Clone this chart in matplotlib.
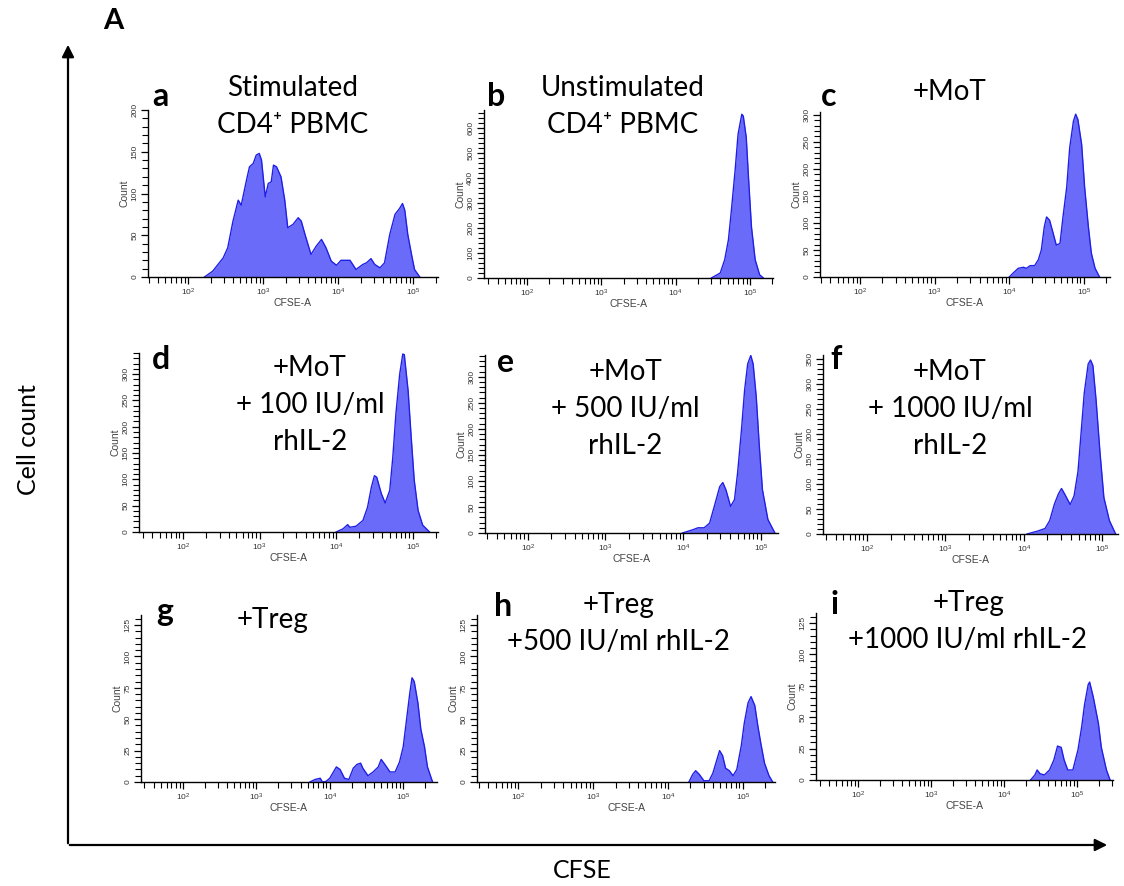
import matplotlib
matplotlib.use('Agg')
import matplotlib.pyplot as plt
from matplotlib.ticker import MultipleLocator, LogLocator, NullFormatter, FixedLocator, FixedFormatter

plt.rcParams['mathtext.fontset'] = 'custom'
plt.rcParams['mathtext.rm'] = 'Liberation Sans'
plt.rcParams['mathtext.it'] = 'Liberation Sans'

# --- data (log10 CFSE, cell count) ---
a_log = [2.22, 2.33, 2.47, 2.53, 2.60, 2.67, 2.71, 2.78, 2.82, 2.87, 2.91, 2.95, 2.98, 3.03, 3.07,
         3.11, 3.14, 3.18, 3.24, 3.29, 3.33, 3.40, 3.47, 3.51, 3.56, 3.64, 3.71, 3.78, 3.84, 3.91,
         3.98, 4.04, 4.16, 4.24, 4.33, 4.38, 4.44, 4.49, 4.56, 4.62, 4.69, 4.76, 4.82, 4.86, 4.89,
         4.93, 4.98, 5.02, 5.09]
a_count = [0, 7, 23, 35, 67, 92, 86, 116, 132, 136, 146, 148, 140, 96, 112,
           114, 134, 132, 120, 92, 59, 63, 71, 67, 51, 27, 37, 45, 35, 19,
           14, 20, 20, 9, 15, 17, 22, 15, 11, 17, 51, 75, 82, 88, 80,
           51, 27, 9, 0]

b_log = [4.48, 4.60, 4.66, 4.71, 4.75, 4.80, 4.84, 4.89, 4.91, 4.95, 4.98, 5.02, 5.07, 5.13, 5.18]
b_count = [0, 20, 73, 152, 270, 429, 574, 653, 646, 561, 402, 204, 73, 13, 0]

c_log = [4.00, 4.05, 4.12, 4.19, 4.23, 4.28, 4.34, 4.39, 4.43, 4.47, 4.50, 4.54, 4.59, 4.63,
         4.68, 4.72, 4.77, 4.81, 4.86, 4.89, 4.92, 4.97, 5.01, 5.06, 5.10, 5.15, 5.21]
c_count = [0, 7, 16, 18, 16, 21, 21, 32, 50, 93, 111, 105, 80, 59,
           62, 111, 166, 239, 288, 301, 291, 245, 166, 93, 44, 16, 0]

d_log = [4.00, 4.09, 4.15, 4.18, 4.26, 4.35, 4.41, 4.46, 4.50, 4.53, 4.59, 4.64, 4.70, 4.74,
         4.78, 4.83, 4.87, 4.89, 4.94, 4.98, 5.02, 5.07, 5.13, 5.22]
d_count = [0, 6, 14, 9, 11, 22, 47, 85, 107, 104, 73, 55, 79, 142,
           224, 300, 338, 337, 268, 180, 98, 41, 13, 0]

e_log = [3.99, 4.12, 4.19, 4.27, 4.34, 4.40, 4.47, 4.51, 4.55, 4.61, 4.66, 4.70, 4.75, 4.79,
         4.83, 4.87, 4.90, 4.94, 4.98, 5.02, 5.09, 5.18]
e_count = [0, 6, 10, 10, 19, 51, 89, 97, 83, 51, 64, 115, 198, 274,
           325, 341, 325, 262, 166, 83, 26, 0]

f_log = [4.04, 4.18, 4.27, 4.33, 4.39, 4.44, 4.48, 4.52, 4.59, 4.64, 4.69, 4.73, 4.77, 4.82,
         4.85, 4.88, 4.92, 4.97, 5.02, 5.09, 5.17]
f_count = [0, 6, 11, 27, 60, 80, 91, 80, 59, 76, 125, 203, 282, 340,
           348, 337, 269, 164, 73, 27, 0]

g_log = [3.73, 3.80, 3.87, 3.90, 3.95, 4.00, 4.05, 4.09, 4.14, 4.20, 4.26, 4.32, 4.37, 4.42,
         4.45, 4.52, 4.59, 4.66, 4.70, 4.75, 4.82, 4.89, 4.95, 5.00, 5.04, 5.09, 5.12, 5.15,
         5.20, 5.24, 5.29, 5.33, 5.40]
g_count = [0, 2, 3, 0, 0.5, 3, 8, 12, 10, 3, 2, 11, 14, 15,
           11, 5, 8, 12, 18, 14, 8, 8, 16, 28, 47, 71, 83, 80,
           63, 42, 28, 12, 0]

h_log = [4.28, 4.33, 4.37, 4.42, 4.48, 4.55, 4.60, 4.65, 4.69, 4.73, 4.77, 4.82, 4.87, 4.92,
         4.98, 5.02, 5.07, 5.11, 5.16, 5.20, 5.24, 5.29, 5.35, 5.40]
h_count = [0, 6, 9, 6, 1, 1, 7, 17, 25, 21, 11, 9, 5, 10,
           29, 47, 63, 68, 61, 45, 31, 15, 5, 0]

i_log = [4.36, 4.42, 4.45, 4.49, 4.55, 4.62, 4.68, 4.73, 4.78, 4.82, 4.87, 4.94, 5.01, 5.06,
         5.10, 5.15, 5.17, 5.22, 5.29, 5.33, 5.40, 5.45]
i_count = [0, 4, 8, 5, 4, 8, 16, 27, 26, 16, 8, 8, 24, 42,
           60, 76, 78, 66, 45, 26, 8, 0]

letters = ['a', 'b', 'c', 'd', 'e', 'f', 'g', 'h', 'i']
titles = [['Stimulated', 'CD4\u207a PBMC'], ['Unstimulated', 'CD4\u207a PBMC'], ['+MoT'],
          ['+MoT', '+ 100 IU/ml', 'rhIL-2'], ['+MoT', '+ 500 IU/ml', 'rhIL-2'],
          ['+MoT', '+ 1000 IU/ml', 'rhIL-2'],
          ['+Treg'], ['+Treg', '+500 IU/ml rhIL-2'], ['+Treg', '+1000 IU/ml rhIL-2']]
y_max = [200, 670, 305, 340, 342, 358, 133, 133, 133]
y_major = [50, 100, 50, 50, 50, 50, 25, 25, 25]
y_minor = [10, 20, 10, 10, 10, 10, 5, 5, 5]
logs = [a_log, b_log, c_log, d_log, e_log, f_log, g_log, h_log, i_log]
counts = [a_count, b_count, c_count, d_count, e_count, f_count, g_count, h_count, i_count]

# axes boxes in pixels: left, top, right, bottom
boxes = [(148, 110, 438, 277), (484, 110, 773, 278), (820, 112, 1110, 277),
         (139, 353, 438, 532), (485, 355, 778, 533), (823, 355, 1118, 534),
         (141, 615, 437, 782), (477, 615, 775, 782), (816, 613, 1113, 780)]
x_lims = [(1.467, 5.333), (1.42, 5.31), (1.464, 5.35),
          (1.426, 5.33), (1.45, 5.22), (1.44, 5.2),
          (1.43, 5.46), (1.45, 5.43), (1.42, 5.49)]
letter_pos = [(160, 96), (496, 96), (829, 96), (161, 359), (506, 363), (836, 359),
              (165, 611), (503, 606), (835, 604)]
title_pos = [(293, 88), (623, 88), (950, 92), (310, 368), (625, 372), (950, 372),
             (273, 620), (618, 605), (968, 603)]
line_gap = 37

W, H = 1124, 886
fig = plt.figure(figsize=(W / 100, H / 100), dpi=100)

fill_col = '#6b6bfa'
edge_col = '#1f1fe6'
title_font = ['Lato', 'DejaVu Sans']

for k in range(9):
    l, t, r, b = boxes[k]
    ax = fig.add_axes([l / W, 1 - b / H, (r - l) / W, (b - t) / H])
    xs = [10 ** v for v in logs[k]]
    ax.fill_between(xs, counts[k], 0, color=fill_col, lw=0)
    ax.plot(xs, counts[k], color=edge_col, lw=1.0)
    ax.set_xscale('log')
    ax.set_xlim(10 ** x_lims[k][0], 10 ** x_lims[k][1])
    ax.set_ylim(0, y_max[k])
    for s in ['top', 'right']:
        ax.spines[s].set_visible(False)
    ax.spines['left'].set_linewidth(1.0)
    ax.spines['bottom'].set_linewidth(1.0)
    ax.xaxis.set_major_locator(FixedLocator([1e2, 1e3, 1e4, 1e5]))
    ax.xaxis.set_major_formatter(FixedFormatter(['$10^{2}$', '$10^{3}$', '$10^{4}$', '$10^{5}$']))
    ax.xaxis.set_minor_locator(LogLocator(base=10, subs=range(2, 10), numticks=20))
    ax.xaxis.set_minor_formatter(NullFormatter())
    ax.yaxis.set_major_locator(MultipleLocator(y_major[k]))
    ax.yaxis.set_minor_locator(MultipleLocator(y_minor[k]))
    ax.tick_params(axis='both', which='major', length=5, width=0.9, labelsize=6,
                   labelcolor='#333333', pad=2)
    ax.tick_params(axis='both', which='minor', length=4, width=0.8)
    for lab in ax.get_yticklabels():
        lab.set_rotation(90)
        lab.set_va('center')
        lab.set_family('Liberation Sans')
    ax.set_xlabel('CFSE-A', fontsize=7.5, color='#444444', family='Liberation Sans', labelpad=0)
    ax.set_ylabel('Count', fontsize=7.5, color='#444444', family='Liberation Sans', labelpad=1)

    lx, ly = letter_pos[k]
    fig.text(lx / W, 1 - ly / H, letters[k], fontsize=23, fontweight='bold',
             family=title_font, ha='center', va='center')
    tx, ty = title_pos[k]
    for j, line in enumerate(titles[k]):
        fig.text(tx / W, 1 - (ty + j * line_gap) / H, line, fontsize=20,
                 family=title_font, ha='center', va='center')

# big panel label and axis arrows
fig.text(113 / W, 1 - 21 / H, 'A', fontsize=21, fontweight='bold', family=title_font,
         ha='center', va='center')
fig.add_artist(matplotlib.patches.FancyArrowPatch((68 / W, 1 - 846 / H), (68 / W, 1 - 42 / H),
               transform=fig.transFigure, arrowstyle='-|>', mutation_scale=18, lw=1.6, color='black'))
fig.add_artist(matplotlib.patches.FancyArrowPatch((67 / W, 1 - 845 / H), (1110 / W, 1 - 845 / H),
               transform=fig.transFigure, arrowstyle='-|>', mutation_scale=18, lw=1.6, color='black'))
fig.text(28 / W, 1 - 440 / H, 'Cell count', fontsize=18, rotation=90, family=title_font,
         ha='center', va='center')
fig.text(582 / W, 1 - 870 / H, 'CFSE', fontsize=18, family=title_font, ha='center', va='center')

fig.savefig('out.png', dpi=100)
